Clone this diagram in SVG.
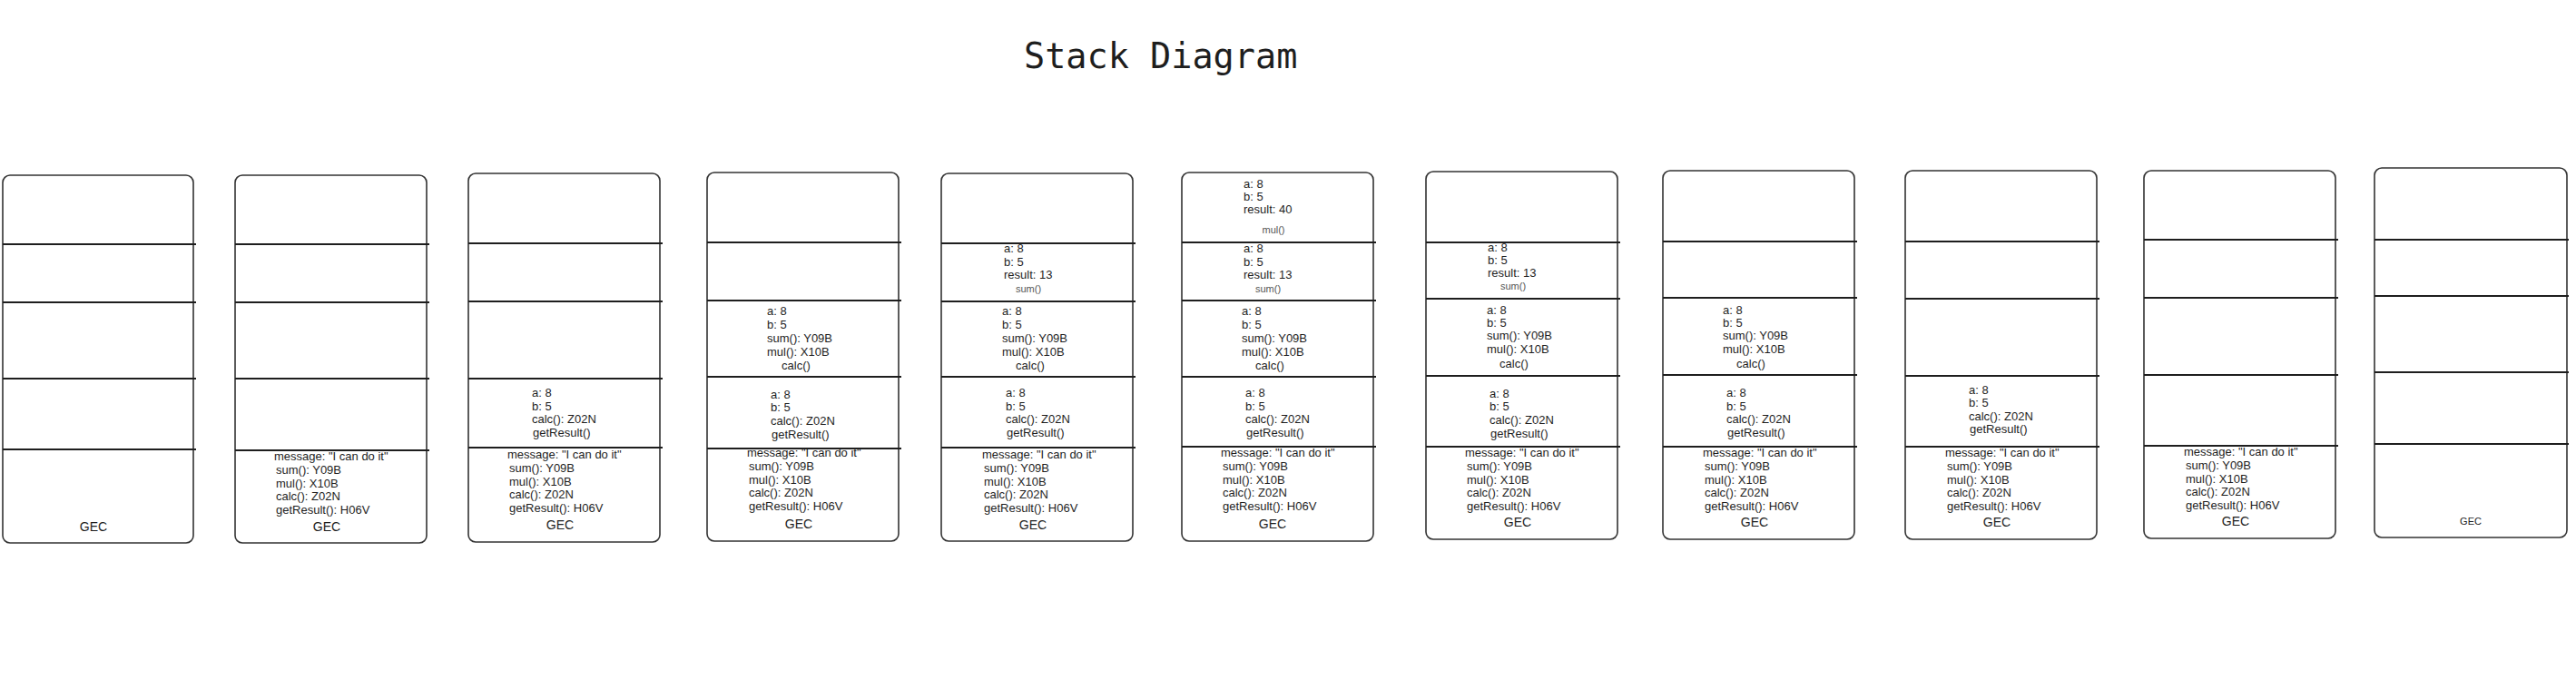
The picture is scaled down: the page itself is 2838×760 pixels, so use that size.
<svg xmlns="http://www.w3.org/2000/svg" width="2838" height="760" viewBox="0 0 2838 760">
<style>
.box{fill:#fff;stroke:#333;stroke-width:1.6}
.div{stroke:#1e1e1e;stroke-width:2}
.t{font-family:"Liberation Sans",Arial,sans-serif;font-size:13px;fill:#1e1e1e}
.f{font-family:"Liberation Sans",Arial,sans-serif;font-size:11px;fill:#555;text-anchor:middle}
.c{font-family:"Liberation Sans",Arial,sans-serif;font-size:13px;fill:#1e1e1e;text-anchor:middle}
.g{font-family:"Liberation Sans",Arial,sans-serif;font-size:14px;fill:#1e1e1e;text-anchor:middle}
.title{font-family:"DejaVu Sans Mono","Liberation Mono",monospace;font-size:38.5px;fill:#1e1e1e}
</style>
<rect width="2838" height="760" fill="#fff"/>
<text class="title" x="1128" y="75">Stack Diagram</text>

<g id="stack1">
<rect class="box" x="3" y="193" width="210" height="405" rx="8"/>
<path class="div" d="M3 269H216M3 333H216M3 417H216M3 495H216"/>
<text class="g" x="103" y="585">GEC</text>
</g>

<g id="stack2">
<rect class="box" x="259" y="193" width="211" height="405" rx="8"/>
<path class="div" d="M259 269H473M259 333H473M259 417H473M259 496H473"/>
<text class="t" x="302" y="507">message: "I can do it"</text>
<text class="t" x="304" y="522">sum(): Y09B</text>
<text class="t" x="304" y="537">mul(): X10B</text>
<text class="t" x="304" y="551">calc(): Z02N</text>
<text class="t" x="304" y="566">getResult(): H06V</text>
<text class="g" x="360" y="585">GEC</text>
</g>

<g id="stack3">
<rect class="box" x="516" y="191" width="211" height="406" rx="8"/>
<path class="div" d="M516 268H730M516 332H730M516 417H730M516 493H730"/>
<text class="t" x="586" y="437">a: 8</text>
<text class="t" x="586" y="452">b: 5</text>
<text class="t" x="586" y="466">calc(): Z02N</text>
<text class="t" x="587" y="481">getResult()</text>
<text class="t" x="559" y="505">message: "I can do it"</text>
<text class="t" x="561" y="520">sum(): Y09B</text>
<text class="t" x="561" y="535">mul(): X10B</text>
<text class="t" x="561" y="549">calc(): Z02N</text>
<text class="t" x="561" y="564">getResult(): H06V</text>
<text class="g" x="617" y="583">GEC</text>
</g>

<g id="stack4">
<rect class="box" x="779" y="190" width="211" height="406" rx="8"/>
<path class="div" d="M779 267H993M779 331H993M779 415H993M779 494H993"/>
<text class="t" x="845" y="347">a: 8</text>
<text class="t" x="845" y="362">b: 5</text>
<text class="t" x="845" y="377">sum(): Y09B</text>
<text class="t" x="845" y="392">mul(): X10B</text>
<text class="c" x="877" y="407">calc()</text>
<text class="t" x="849" y="439">a: 8</text>
<text class="t" x="849" y="453">b: 5</text>
<text class="t" x="849" y="468">calc(): Z02N</text>
<text class="t" x="850" y="483">getResult()</text>
<text class="t" x="823" y="503">message: "I can do it"</text>
<text class="t" x="825" y="518">sum(): Y09B</text>
<text class="t" x="825" y="533">mul(): X10B</text>
<text class="t" x="825" y="547">calc(): Z02N</text>
<text class="t" x="825" y="562">getResult(): H06V</text>
<text class="g" x="880" y="582">GEC</text>
</g>

<g id="stack5">
<rect class="box" x="1037" y="191" width="211" height="405" rx="8"/>
<path class="div" d="M1037 268H1251M1037 332H1251M1037 415H1251M1037 493H1251"/>
<text class="t" x="1106" y="278">a: 8</text>
<text class="t" x="1106" y="293">b: 5</text>
<text class="t" x="1106" y="307">result: 13</text>
<text class="f" x="1133" y="322">sum()</text>
<text class="t" x="1104" y="347">a: 8</text>
<text class="t" x="1104" y="362">b: 5</text>
<text class="t" x="1104" y="377">sum(): Y09B</text>
<text class="t" x="1104" y="392">mul(): X10B</text>
<text class="c" x="1135" y="407">calc()</text>
<text class="t" x="1108" y="437">a: 8</text>
<text class="t" x="1108" y="452">b: 5</text>
<text class="t" x="1108" y="466">calc(): Z02N</text>
<text class="t" x="1109" y="481">getResult()</text>
<text class="t" x="1082" y="505">message: "I can do it"</text>
<text class="t" x="1084" y="520">sum(): Y09B</text>
<text class="t" x="1084" y="535">mul(): X10B</text>
<text class="t" x="1084" y="549">calc(): Z02N</text>
<text class="t" x="1084" y="564">getResult(): H06V</text>
<text class="g" x="1138" y="583">GEC</text>
</g>

<g id="stack6">
<rect class="box" x="1302" y="190" width="211" height="406" rx="8"/>
<path class="div" d="M1302 267H1516M1302 331H1516M1302 415H1516M1302 492H1516"/>
<text class="t" x="1370" y="207">a: 8</text>
<text class="t" x="1370" y="221">b: 5</text>
<text class="t" x="1370" y="235">result: 40</text>
<text class="f" x="1403" y="257">mul()</text>
<text class="t" x="1370" y="278">a: 8</text>
<text class="t" x="1370" y="293">b: 5</text>
<text class="t" x="1370" y="307">result: 13</text>
<text class="f" x="1397" y="322">sum()</text>
<text class="t" x="1368" y="347">a: 8</text>
<text class="t" x="1368" y="362">b: 5</text>
<text class="t" x="1368" y="377">sum(): Y09B</text>
<text class="t" x="1368" y="392">mul(): X10B</text>
<text class="c" x="1399" y="407">calc()</text>
<text class="t" x="1372" y="437">a: 8</text>
<text class="t" x="1372" y="452">b: 5</text>
<text class="t" x="1372" y="466">calc(): Z02N</text>
<text class="t" x="1373" y="481">getResult()</text>
<text class="t" x="1345" y="503">message: "I can do it"</text>
<text class="t" x="1347" y="518">sum(): Y09B</text>
<text class="t" x="1347" y="533">mul(): X10B</text>
<text class="t" x="1347" y="547">calc(): Z02N</text>
<text class="t" x="1347" y="562">getResult(): H06V</text>
<text class="g" x="1402" y="582">GEC</text>
</g>

<g id="stack7">
<rect class="box" x="1571" y="189" width="211" height="405" rx="8"/>
<path class="div" d="M1571 267H1785M1571 329H1785M1571 414H1785M1571 492H1785"/>
<text class="t" x="1639" y="277">a: 8</text>
<text class="t" x="1639" y="291">b: 5</text>
<text class="t" x="1639" y="305">result: 13</text>
<text class="f" x="1667" y="319">sum()</text>
<text class="t" x="1638" y="346">a: 8</text>
<text class="t" x="1638" y="360">b: 5</text>
<text class="t" x="1638" y="374">sum(): Y09B</text>
<text class="t" x="1638" y="389">mul(): X10B</text>
<text class="c" x="1668" y="405">calc()</text>
<text class="t" x="1641" y="438">a: 8</text>
<text class="t" x="1641" y="452">b: 5</text>
<text class="t" x="1641" y="467">calc(): Z02N</text>
<text class="t" x="1642" y="482">getResult()</text>
<text class="t" x="1614" y="503">message: "I can do it"</text>
<text class="t" x="1616" y="518">sum(): Y09B</text>
<text class="t" x="1616" y="533">mul(): X10B</text>
<text class="t" x="1616" y="547">calc(): Z02N</text>
<text class="t" x="1616" y="562">getResult(): H06V</text>
<text class="g" x="1672" y="580">GEC</text>
</g>

<g id="stack8">
<rect class="box" x="1832" y="188" width="211" height="406" rx="8"/>
<path class="div" d="M1832 266H2046M1832 328H2046M1832 413H2046M1832 492H2046"/>
<text class="t" x="1898" y="346">a: 8</text>
<text class="t" x="1898" y="360">b: 5</text>
<text class="t" x="1898" y="374">sum(): Y09B</text>
<text class="t" x="1898" y="389">mul(): X10B</text>
<text class="c" x="1929" y="405">calc()</text>
<text class="t" x="1902" y="437">a: 8</text>
<text class="t" x="1902" y="452">b: 5</text>
<text class="t" x="1902" y="466">calc(): Z02N</text>
<text class="t" x="1903" y="481">getResult()</text>
<text class="t" x="1876" y="503">message: "I can do it"</text>
<text class="t" x="1878" y="518">sum(): Y09B</text>
<text class="t" x="1878" y="533">mul(): X10B</text>
<text class="t" x="1878" y="547">calc(): Z02N</text>
<text class="t" x="1878" y="562">getResult(): H06V</text>
<text class="g" x="1933" y="580">GEC</text>
</g>

<g id="stack9">
<rect class="box" x="2099" y="188" width="211" height="406" rx="8"/>
<path class="div" d="M2099 266H2313M2099 329H2313M2099 414H2313M2099 492H2313"/>
<text class="t" x="2169" y="434">a: 8</text>
<text class="t" x="2169" y="448">b: 5</text>
<text class="t" x="2169" y="463">calc(): Z02N</text>
<text class="t" x="2170" y="477">getResult()</text>
<text class="t" x="2143" y="503">message: "I can do it"</text>
<text class="t" x="2145" y="518">sum(): Y09B</text>
<text class="t" x="2145" y="533">mul(): X10B</text>
<text class="t" x="2145" y="547">calc(): Z02N</text>
<text class="t" x="2145" y="562">getResult(): H06V</text>
<text class="g" x="2200" y="580">GEC</text>
</g>

<g id="stack10">
<rect class="box" x="2362" y="188" width="211" height="405" rx="8"/>
<path class="div" d="M2362 264H2576M2362 328H2576M2362 413H2576M2362 491H2576"/>
<text class="t" x="2406" y="502">message: "I can do it"</text>
<text class="t" x="2408" y="517">sum(): Y09B</text>
<text class="t" x="2408" y="532">mul(): X10B</text>
<text class="t" x="2408" y="546">calc(): Z02N</text>
<text class="t" x="2408" y="561">getResult(): H06V</text>
<text class="g" x="2463" y="579">GEC</text>
</g>

<g id="stack11">
<rect class="box" x="2616" y="185" width="212" height="407" rx="8"/>
<path class="div" d="M2616 264H2830M2616 326H2830M2616 410H2830M2616 489H2830"/>
<text class="g" x="2722" y="578" style="font-size:11px">GEC</text>
</g>
</svg>
